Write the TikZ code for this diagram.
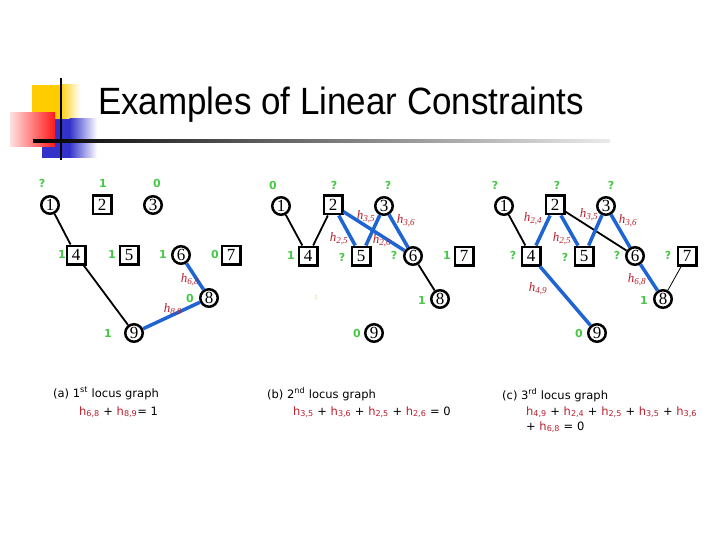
\documentclass[tikz,border=0pt]{standalone}
\usepackage{fontspec}
\setmainfont{Liberation Serif}
\newfontfamily\titlefont{Liberation Sans}
\newfontfamily\capfont{DejaVu Sans}
\definecolor{gold}{RGB}{255,204,0}
\definecolor{dblue}{RGB}{51,51,204}
\definecolor{lgreen}{RGB}{70,200,70}
\definecolor{hred}{RGB}{185,30,45}
\definecolor{eblue}{RGB}{30,100,210}
\definecolor{dotyel}{RGB}{225,215,110}
\newcommand{\hl}[1]{\textit{h}\textsubscript{\textit{#1}}}
\newcommand{\ch}[1]{\textcolor{hred}{h\textsubscript{#1}}}
\tikzset{
  cnode/.style={circle, draw, line width=2.5pt, fill=white, minimum size=17.5pt, inner sep=0pt, font=\fontsize{17}{17}\selectfont},
  snode/.style={rectangle, draw, line width=2.5pt, fill=white, minimum size=18.5pt, inner sep=0pt, font=\fontsize{17}{17}\selectfont},
  glab/.style={text=lgreen, font=\capfont\bfseries\fontsize{11}{11}\selectfont, inner sep=0pt},
  hlab/.style={text=hred, font=\fontsize{13}{13}\selectfont, inner sep=0pt},
  bedge/.style={line width=1.8pt, black},
  tedge/.style={line width=0.8pt, black},
  uedge/.style={line width=3.5pt, eblue},
  captxt/.style={font=\capfont\fontsize{11.5}{13}\selectfont, inner sep=0pt, anchor=base west},
}
\begin{document}
\begin{tikzpicture}[x=1pt,y=-1pt]
\useasboundingbox (0,0) rectangle (720,540);
% decoration
\fill[gold] (32,85) rectangle (60,120);
\shade[left color=gold, right color=white] (59.5,85) rectangle (80,120);
\fill[dblue] (42,119) rectangle (70,158);
\shade[left color=dblue, right color=white] (69.5,119) rectangle (97,158);
\shade[left color=red!12, right color=red!90] (10,113) rectangle (55,147);
\fill[black] (60,78) rectangle (62.2,160);
\shade[left color=black, right color=black!8] (33,140) rectangle (610,142.3);
\node[anchor=base west, inner sep=0pt, font=\titlefont\fontsize{38}{38}\selectfont] (title) at (98,115) {\scalebox{0.92}[1]{Examples of Linear Constraints}};

% ---------- graph (a)
\node[cnode] (a1) at (50,205) {1};
\node[snode] (a2) at (102,205) {2};
\node[cnode] (a3) at (153,205) {3};
\node[snode] (a4) at (76,255) {4};
\node[snode] (a5) at (129,255) {5};
\node[cnode] (a6) at (181,255) {6};
\node[snode] (a7) at (231,255) {7};
\node[cnode] (a8) at (209,298) {8};
\node[cnode] (a9) at (134,333) {9};
\draw[bedge] (a1) -- (a4);
\draw[bedge] (a4) -- (a9);
\draw[uedge] (a6) -- (a8);
\draw[uedge] (a8) -- (a9);
\node[glab] (la1) at (42,183) {?};
\node[glab] (la2) at (103,183) {1};
\node[glab] (la3) at (157,183) {0};
\node[glab] (la4) at (62,254) {1};
\node[glab] (la5) at (112,254) {1};
\node[glab] (la6) at (163,254) {1};
\node[glab] (la7) at (215,254) {0};
\node[glab] (la8) at (190,298) {0};
\node[glab] (la9) at (108,333) {1};
\node[hlab] (ha68) at (190,280) {\hl{6,8}};
\node[hlab] (ha89) at (173,310) {\hl{8,9}};

% ---------- graph (b)
\node[cnode] (b1) at (281,206) {1};
\node[snode] (b2) at (333,205) {2};
\node[cnode] (b3) at (384,206) {3};
\node[snode] (b4) at (308,256) {4};
\node[snode] (b5) at (361,256) {5};
\node[cnode] (b6) at (413,256) {6};
\node[snode] (b7) at (464,256) {7};
\node[cnode] (b8) at (440,299) {8};
\node[cnode] (b9) at (374,333) {9};
\draw[bedge] (b1) -- (b4);
\draw[bedge] (b2) -- (b4);
\draw[bedge] (b6) -- (b8);
\draw[uedge] (b2) -- (b5);
\draw[uedge] (b2) -- (b6);
\draw[uedge] (b3) -- (b5);
\draw[uedge] (b3) -- (b6);
\node[glab] (lb1) at (273,185) {0};
\node[glab] (lb2) at (334,185) {?};
\node[glab] (lb3) at (388,185) {?};
\node[glab] (lb4) at (291,255) {1};
\node[glab] (lb5) at (342,257) {?};
\node[glab] (lb6) at (394,255) {?};
\node[glab] (lb7) at (447,255) {1};
\node[glab] (lb8) at (422,300) {1};
\node[glab] (lb9) at (357,333) {0};
\node[hlab] (hb35) at (366,217) {\hl{3,5}};
\node[hlab] (hb36) at (406,221) {\hl{3,6}};
\node[hlab] (hb25) at (339,239) {\hl{2,5}};
\node[hlab] (hb26) at (382,241) {\hl{2,6}};
\node[text=dotyel, font=\capfont\bfseries\fontsize{7}{7}\selectfont, inner sep=0pt] (dot) at (316,298) {:};

% ---------- graph (c)
\node[cnode] (c1) at (504,206) {1};
\node[snode] (c2) at (555,205) {2};
\node[cnode] (c3) at (606,206) {3};
\node[snode] (c4) at (531,256) {4};
\node[snode] (c5) at (584,256) {5};
\node[cnode] (c6) at (635,256) {6};
\node[snode] (c7) at (687,256) {7};
\node[cnode] (c8) at (663,299) {8};
\node[cnode] (c9) at (597,333) {9};
\draw[bedge] (c1) -- (c4);
\draw[bedge] (c2) -- (c6);
\draw[tedge] (c7) -- (c8);
\draw[uedge] (c2) -- (c4);
\draw[uedge] (c2) -- (c5);
\draw[uedge] (c3) -- (c5);
\draw[uedge] (c3) -- (c6);
\draw[uedge] (c4) -- (c9);
\draw[uedge] (c6) -- (c8);
\node[glab] (lc1) at (495,185) {?};
\node[glab] (lc2) at (557,185) {?};
\node[glab] (lc3) at (611,185) {?};
\node[glab] (lc4) at (513,255) {?};
\node[glab] (lc5) at (565,257) {?};
\node[glab] (lc6) at (617,255) {?};
\node[glab] (lc7) at (668,255) {?};
\node[glab] (lc8) at (644,300) {1};
\node[glab] (lc9) at (579,333) {0};
\node[hlab] (hc24) at (533,219) {\hl{2,4}};
\node[hlab] (hc35) at (589,215) {\hl{3,5}};
\node[hlab] (hc36) at (628,221) {\hl{3,6}};
\node[hlab] (hc25) at (562,239) {\hl{2,5}};
\node[hlab] (hc49) at (538,289) {\hl{4,9}};
\node[hlab] (hc68) at (637,280) {\hl{6,8}};

% ---------- captions
\node[captxt] (capa1) at (53,397) {(a) 1\textsuperscript{st} locus graph};
\node[captxt] (capa2) at (79,415) {\ch{6,8} + \ch{8,9}= 1};
\node[captxt] (capb1) at (267,398) {(b) 2\textsuperscript{nd} locus graph};
\node[captxt] (capb2) at (293,415) {\ch{3,5} + \ch{3,6} + \ch{2,5} + \ch{2,6} = 0};
\node[captxt] (capc1) at (502,399) {(c) 3\textsuperscript{rd} locus graph};
\node[captxt] (capc2) at (526,415) {\ch{4,9} + \ch{2,4} + \ch{2,5} + \ch{3,5} + \ch{3,6}};
\node[captxt] (capc3) at (526,430) {+ \ch{6,8} = 0};
\end{tikzpicture}
\end{document}
